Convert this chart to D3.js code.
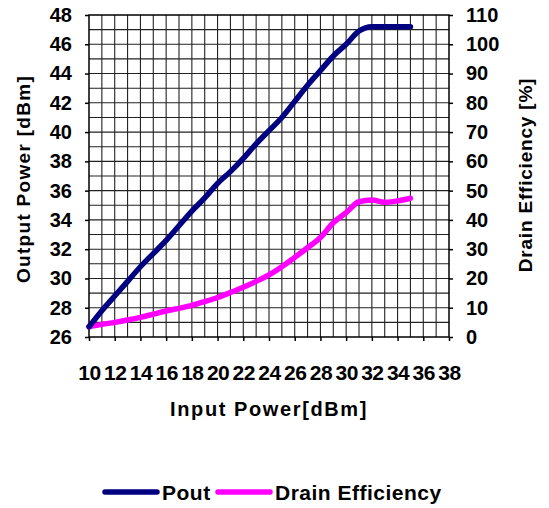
<!DOCTYPE html>
<html>
<head>
<meta charset="utf-8">
<script src="https://cdn.jsdelivr.net/npm/d3@7"></script>
<style>
  body { margin: 0; background: #fff; }
  text { font-family: "Liberation Sans", Arial, sans-serif; font-weight: bold; fill: #000; }
</style>
</head>
<body>
<svg id="chart" width="549" height="508"></svg>
<script>
// input power sweep [dBm]
const inputPower = [10, 11, 12, 13, 14, 15, 16, 17, 18, 19, 20, 21, 22, 23, 24, 25, 26, 27, 28, 29, 30, 31, 32, 33, 34, 35];
// output power [dBm]
const pout = [26.7, 27.8, 28.8, 29.8, 30.8, 31.7, 32.6, 33.6, 34.6, 35.5, 36.5, 37.3, 38.2, 39.2, 40.1, 41.0, 42.1, 43.2, 44.2, 45.2, 46.0, 46.9, 47.2, 47.2, 47.2, 47.2];
// drain efficiency [%]
const drainEff = [3.5, 4.3, 5.0, 5.8, 6.7, 7.8, 8.9, 9.8, 10.8, 12.1, 13.5, 15.2, 17.0, 19.0, 21.2, 24.0, 27.2, 30.5, 34.0, 39.0, 42.5, 46.2, 46.8, 46.0, 46.5, 47.4];

const xTicks = [10, 12, 14, 16, 18, 20, 22, 24, 26, 28, 30, 32, 34, 36, 38];
const yLeftTicks = [26, 28, 30, 32, 34, 36, 38, 40, 42, 44, 46, 48];
const yRightTicks = [0, 10, 20, 30, 40, 50, 60, 70, 80, 90, 100, 110];

const margin = {top: 15, right: 100, bottom: 171, left: 89};
const width = 549, height = 508;

const svg = d3.select("#chart");

const x = d3.scaleLinear().domain([10, 38]).range([margin.left, width - margin.right]);
const yL = d3.scaleLinear().domain([26, 48]).range([height - margin.bottom, margin.top]);
const yR = d3.scaleLinear().domain([0, 110]).range([height - margin.bottom, margin.top]);

// grid, one line per unit
const grid = svg.append("g").attr("stroke", "#222").attr("stroke-width", 1.1);
grid.selectAll(".vg")
    .data(d3.range(11, 38))
    .join("line")
    .attr("x1", d => x(d)).attr("x2", d => x(d))
    .attr("y1", yL(26)).attr("y2", yL(48));
grid.selectAll(".hg")
    .data(d3.range(27, 48))
    .join("line")
    .attr("x1", x(10)).attr("x2", x(38))
    .attr("y1", d => yL(d)).attr("y2", d => yL(d));

// frame
svg.append("rect")
    .attr("x", x(10)).attr("y", yL(48))
    .attr("width", x(38) - x(10)).attr("height", yL(26) - yL(48))
    .attr("fill", "none").attr("stroke", "#000").attr("stroke-width", 1.5);

// axes
const axisBottom = svg.append("g")
    .attr("transform", `translate(0,${yL(26)})`)
    .call(d3.axisBottom(x).tickValues(xTicks).tickSize(4).tickPadding(24).tickFormat(d3.format("d")));
const axisLeft = svg.append("g")
    .attr("transform", `translate(${x(10)},0)`)
    .call(d3.axisLeft(yL).tickValues(yLeftTicks).tickSize(4).tickPadding(13).tickFormat(d3.format("d")));
const axisRight = svg.append("g")
    .attr("transform", `translate(${x(38)},0)`)
    .call(d3.axisRight(yR).tickValues(yRightTicks).tickSize(4).tickPadding(13).tickFormat(d3.format("d")));

[axisBottom, axisLeft, axisRight].forEach(a => {
    a.select(".domain").remove();
    a.selectAll(".tick line").attr("stroke", "#000").attr("stroke-width", 1.5);
    a.selectAll("text").style("font-size", "20px").attr("fill", "#000");
});
axisBottom.selectAll("text").style("font-size", "21px").style("letter-spacing", "-0.5px");

// axis titles
svg.append("text")
    .attr("x", x(24)).attr("y", 416)
    .attr("text-anchor", "middle")
    .style("font-size", "20px").style("letter-spacing", "1.6px")
    .text("Input Power[dBm]");

svg.append("text")
    .attr("transform", `translate(30,${(yL(26) + yL(48)) / 2 + 3}) rotate(-90)`)
    .attr("text-anchor", "middle")
    .style("font-size", "19px").style("letter-spacing", "1.3px")
    .text("Output Power [dBm]");

svg.append("text")
    .attr("transform", `translate(532,${(yL(26) + yL(48)) / 2 - 1}) rotate(-90)`)
    .attr("text-anchor", "middle")
    .style("font-size", "19px").style("letter-spacing", "0.8px")
    .text("Drain Efficiency [%]");

// series
const line = d3.line().curve(d3.curveMonotoneX);

svg.append("path")
    .datum(inputPower.map((d, i) => [x(d), yR(drainEff[i])]))
    .attr("d", line)
    .attr("fill", "none").attr("stroke", "#FF00FF").attr("stroke-width", 5.5)
    .attr("stroke-linejoin", "round").attr("stroke-linecap", "round");

svg.append("path")
    .datum(inputPower.map((d, i) => [x(d), yL(pout[i])]))
    .attr("d", line)
    .attr("fill", "none").attr("stroke", "#000080").attr("stroke-width", 5.5)
    .attr("stroke-linejoin", "round").attr("stroke-linecap", "round");

// legend
const legendItems = [
    {name: "Pout", color: "#000080", x: 105},
    {name: "Drain Efficiency", color: "#FF00FF", x: 218}
];
const legend = svg.append("g");
legend.selectAll("line")
    .data(legendItems)
    .join("line")
    .attr("x1", d => d.x).attr("x2", d => d.x + 52)
    .attr("y1", 492).attr("y2", 492)
    .attr("stroke", d => d.color).attr("stroke-width", 5.5)
    .attr("stroke-linecap", "round");
legend.selectAll("text")
    .data(legendItems)
    .join("text")
    .attr("x", d => d.x + 57).attr("y", 500)
    .style("font-size", "21px").style("letter-spacing", "0.5px")
    .text(d => d.name);
</script>
</body>
</html>
